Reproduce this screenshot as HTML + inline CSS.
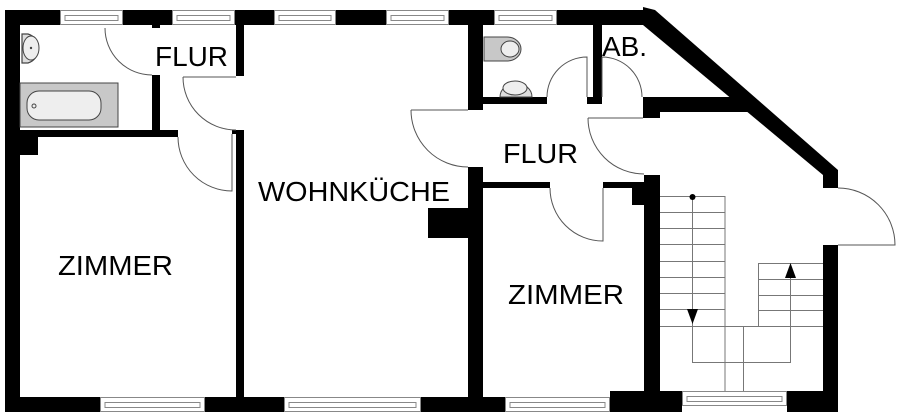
<!DOCTYPE html>
<html><head><meta charset="utf-8"><style>
html,body{margin:0;padding:0;background:#fff;}
svg{display:block}
text{font-family:"Liberation Sans",sans-serif;fill:#000;}
</style></head><body>
<svg width="900" height="417" viewBox="0 0 900 417" xmlns="http://www.w3.org/2000/svg">
<g fill="#000">
<rect x="5" y="10" width="55" height="15"/>
<rect x="123" y="10" width="49" height="15"/>
<rect x="235" y="10" width="39" height="15"/>
<rect x="336" y="10" width="50" height="15"/>
<rect x="449" y="10" width="45" height="15"/>
<rect x="557" y="10" width="86" height="15"/>
<polygon points="643,7 655,10 838,170 838,188 823,188 823,175 643,25"/>
<rect x="5" y="10" width="15" height="402"/>
<rect x="5" y="397" width="95" height="15"/>
<rect x="205" y="397" width="79" height="15"/>
<rect x="421" y="397" width="84" height="15"/>
<rect x="610" y="391" width="72" height="21"/>
<rect x="787" y="391" width="51" height="21"/>
<rect x="20" y="130" width="158" height="7"/>
<rect x="20" y="130" width="18" height="25"/>
<rect x="152" y="75" width="8" height="58"/>
<rect x="152" y="25" width="8" height="3"/>
<rect x="236" y="25" width="8" height="51"/>
<rect x="232" y="130" width="12" height="4"/>
<rect x="236" y="130" width="8" height="267"/>
<rect x="468" y="25" width="15" height="85"/>
<rect x="468" y="167" width="15" height="230"/>
<rect x="428" y="208" width="40" height="30"/>
<rect x="483" y="97" width="64" height="7"/>
<rect x="587" y="97" width="15" height="7"/>
<rect x="593" y="25" width="9" height="79"/>
<polygon points="643,97 745,97 762,112 660,112 660,118 643,118"/>
<rect x="483" y="182" width="67" height="6"/>
<rect x="603" y="182" width="57" height="6"/>
<rect x="644" y="175" width="16" height="216"/>
<rect x="632" y="188" width="12" height="17"/>
<rect x="823" y="245" width="15" height="167"/>
</g>
<g fill="#fff" stroke="#888" stroke-width="1">
<rect x="60.5" y="10.5" width="62" height="14"/>
<rect x="172.5" y="10.5" width="62" height="14"/>
<rect x="274.5" y="10.5" width="61" height="14"/>
<rect x="386.5" y="10.5" width="62" height="14"/>
<rect x="494.5" y="10.5" width="62" height="14"/>
<rect x="100.5" y="397.5" width="104" height="14"/>
<rect x="284.5" y="397.5" width="136" height="14"/>
<rect x="505.5" y="397.5" width="104" height="14"/>
<rect x="682.5" y="391.5" width="104" height="14"/>
</g>
<g stroke="#888" stroke-width="1" fill="none">
<path d="M65 15.5H118M65 20.5H118M65 15v6M118 15v6"/>
<path d="M177 15.5H230M177 20.5H230M177 15v6M230 15v6"/>
<path d="M279 15.5H331M279 20.5H331M279 15v6M331 15v6"/>
<path d="M391 15.5H444M391 20.5H444M391 15v6M444 15v6"/>
<path d="M499 15.5H552M499 20.5H552M499 15v6M552 15v6"/>
<path d="M105 402.5H200M105 407.5H200M105 402v6M200 402v6"/>
<path d="M289 402.5H416M289 407.5H416M289 402v6M416 402v6"/>
<path d="M510 402.5H605M510 407.5H605M510 402v6M605 402v6"/>
<path d="M687 396.5H782M687 401.5H782M687 396v6M782 396v6"/>
</g>
<g stroke="#555" stroke-width="1" fill="none">
<path d="M105 28 A47 47 0 0 0 152 75"/>
<path d="M183 77 A53 53 0 0 0 236 130 M183 77H236"/>
<path d="M178 137 A54 54 0 0 0 232 191 V134"/>
<path d="M411 110 A57 57 0 0 0 468 167 M411 110H468"/>
<path d="M547 97 A40 40 0 0 1 587 57 V97"/>
<path d="M602 57 A40 40 0 0 1 642 97 M602 57V97"/>
<path d="M588 118 A56 56 0 0 0 644 174 M588 118H643"/>
<path d="M550 188 A53 53 0 0 0 603 241 V188"/>
<path d="M838 188 A57 57 0 0 1 895 245 H838"/>
</g>
<g stroke="#777" stroke-width="1" fill="none">
<path d="M660 196.5H725V391M660 212.5H725M660 228.5H725M660 244.5H725M660 261.5H725M660 277.5H725M660 293.5H725M660 309.5H725M660 326.5H823"/>
<path d="M743.5 326V391"/>
<path d="M758.5 263V326M758 263.5H823M758 279.5H823M758 295.5H823M758 310.5H823"/>
<path d="M692.5 196V362.5H790.5V275"/>
</g>
<circle cx="692.5" cy="197" r="3" fill="#000"/>
<polygon points="687,309 698,309 692.5,324" fill="#000"/>
<polygon points="785,278 796,278 790.5,263" fill="#000"/>
<path d="M22 34 H28 A14 15 0 0 1 28 63 H22 Z" fill="#ddd" stroke="#444" stroke-width="1.2"/>
<ellipse cx="31" cy="48" rx="8" ry="12" fill="#eee" stroke="#444"/>
<circle cx="31" cy="48" r="1.2" fill="#444"/>
<rect x="20" y="83" width="98" height="44" fill="#c8c8c8" stroke="#444"/>
<rect x="27" y="91" width="74" height="29" rx="12" fill="#eee" stroke="#444"/>
<circle cx="34" cy="106" r="2" fill="none" stroke="#444"/>
<path d="M484 37 H507 A14 12 0 0 1 507 61 H484 Z" fill="#c8c8c8" stroke="#444"/>
<ellipse cx="510" cy="49" rx="9" ry="8" fill="#eee" stroke="#444"/>
<path d="M500 97 A16 14 0 1 1 532 97 Z" fill="#ddd" stroke="#444"/>
<ellipse cx="515" cy="88" rx="12" ry="7" fill="#eee" stroke="#444"/>
<g font-size="28" lengthAdjust="spacingAndGlyphs">
<text x="155" y="66" textLength="73" lengthAdjust="spacingAndGlyphs">FLUR</text>
<text x="258" y="201" textLength="192" lengthAdjust="spacingAndGlyphs">WOHNKÜCHE</text>
<text x="58" y="275" textLength="115" lengthAdjust="spacingAndGlyphs">ZIMMER</text>
<text x="508" y="304" textLength="116" lengthAdjust="spacingAndGlyphs">ZIMMER</text>
<text x="503" y="163" textLength="75" lengthAdjust="spacingAndGlyphs">FLUR</text>
<text x="602" y="56" textLength="45" lengthAdjust="spacingAndGlyphs">AB.</text>
</g>
</svg>
</body></html>
